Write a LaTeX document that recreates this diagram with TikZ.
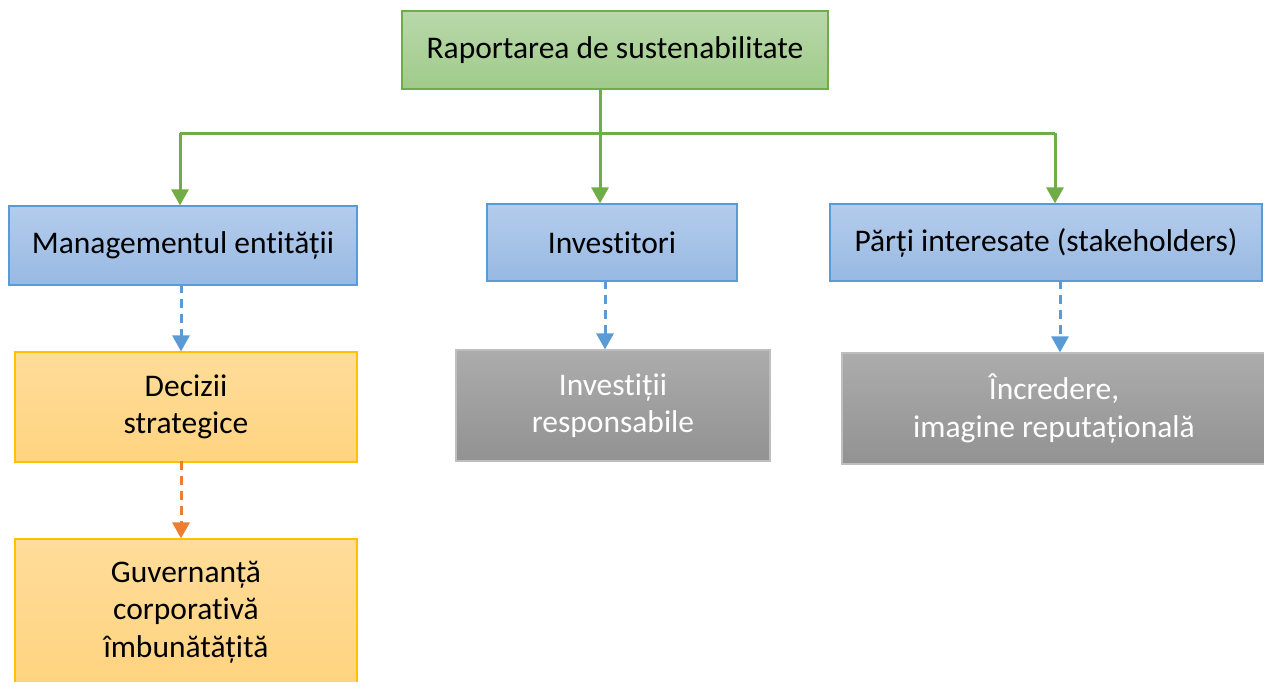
\documentclass[tikz,border=0pt]{standalone}
\usepackage{fontspec}
\setmainfont{Carlito}[Ligatures={NoCommon,NoRequired,NoContextual,NoDiscretionary}]
\usetikzlibrary{arrows.meta}
\definecolor{grnline}{HTML}{70AD47}
\definecolor{bluline}{HTML}{5B9BD5}
\definecolor{orgline}{HTML}{ED7D31}
\definecolor{yelline}{HTML}{FFC000}
\begin{document}
\begin{tikzpicture}[x=1pt,y=-1pt,
    every node/.style={font=\fontsize{31.5}{37.5}\selectfont, align=center, inner sep=0pt},
    greenbox/.style={draw=grnline, line width=1.2pt, top color={rgb,255:red,184;green,216;blue,170}, bottom color={rgb,255:red,160;green,203;blue,138}},
    bluebox/.style={draw=bluline, line width=1.2pt, top color={rgb,255:red,180;green,204;blue,236}, bottom color={rgb,255:red,152;green,185;blue,226}},
    yelbox/.style={draw=yelline, line width=1.2pt, top color={rgb,255:red,255;green,220;blue,154}, bottom color={rgb,255:red,255;green,212;blue,128}},
    graybox/.style={draw={rgb,255:red,190;green,190;blue,190}, line width=1.2pt, text=white, top color={rgb,255:red,172;green,172;blue,172}, bottom color={rgb,255:red,146;green,146;blue,146}},
    solidarr/.style={draw=grnline, line width=3pt, -{Triangle[length=16pt,width=17pt]}},
    dasharr/.style={line width=3pt, dash pattern=on 9pt off 6pt, -{Triangle[length=16pt,width=17pt]}}]
    \useasboundingbox (0,0) rectangle (1264,681);
    % top
    \node [greenbox, minimum width=426pt, minimum height=78pt] (rap) at (615,50) {Raportarea de sustenabilitate};
    % second row
    \node [bluebox, minimum width=348pt, minimum height=79pt] (mgmt) at (183,245.5) {Managementul entității};
    \node [bluebox, minimum width=250pt, minimum height=77pt] (inv) at (612,242.5) {Investitori};
    \node [bluebox, minimum width=432pt, minimum height=77pt] (parti) at (1046,242.5) {Părți interesate (stakeholders)};
    % third row
    \node [yelbox, minimum width=342pt, minimum height=110pt] (dec) at (186,407) {Decizii\\strategice};
    \node [graybox, minimum width=314pt, minimum height=111pt] (invresp) at (613,405.5) {Investiții\\responsabile};
    \node [graybox, minimum width=424pt, minimum height=111pt] (incr) at (1054,408.5) {Încredere,\\imagine reputațională};
    % fourth row
    \node [yelbox, minimum width=342pt, minimum height=146pt] (guv) at (186,612) {Guvernanță\\corporativă\\îmbunătățită};
    % green tree
    \coordinate (j1) at (180,133);
    \coordinate (j2) at (600,133);
    \coordinate (j3) at (1055,133);
    \draw [grnline, line width=3pt] (j2 |- rap.south) -- (j2);
    \draw [grnline, line width=3pt] (j1) -- (j3);
    \draw [solidarr] (j1) -- (j1 |- mgmt.north);
    \draw [solidarr] (j2) -- (j2 |- inv.north);
    \draw [solidarr] (j3) -- (j3 |- parti.north);
    % dashed
    \draw [dasharr, bluline] ([xshift=-2pt,yshift=2pt]mgmt.south) -- ([xshift=-5pt]dec.north);
    \draw [dasharr, bluline] ([xshift=-7pt,yshift=2pt]inv.south) -- ([xshift=-8pt]invresp.north);
    \draw [dasharr, bluline] ([xshift=14pt,yshift=2pt]parti.south) -- ([xshift=6pt]incr.north);
    \draw [dasharr, orgline] ([xshift=-5pt,yshift=2pt]dec.south) -- ([xshift=-5pt]guv.north);
\end{tikzpicture}
\end{document}
